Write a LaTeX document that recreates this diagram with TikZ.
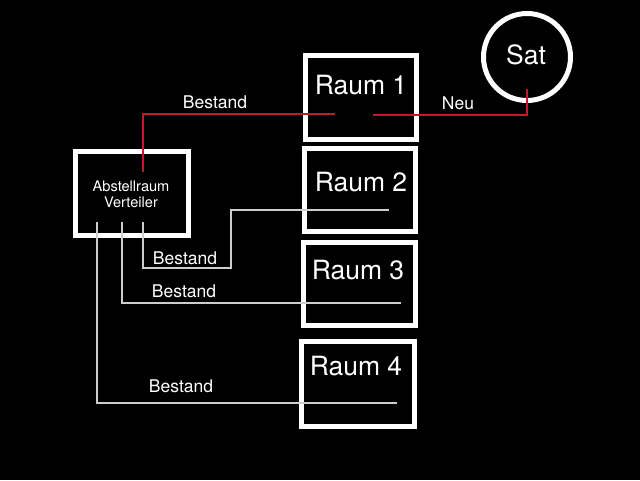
\documentclass[tikz,border=0pt]{standalone}
\usepackage{fontspec}
\setmainfont{TeX Gyre Heros}
\begin{document}
\begin{tikzpicture}[x=1pt,y=-1pt,
  room/.style={draw=white,line width=5pt,inner sep=0pt,minimum width=#1},
  lbl/.style={text=white,inner sep=0pt,font=\fontsize{17.5}{17.5}\selectfont},
  big/.style={text=white,inner sep=0pt,font=\fontsize{26.5}{26.5}\selectfont},
  redline/.style={draw={rgb,255:red,185;green,30;blue,38},line width=2.6pt},
  grayline/.style={draw={rgb,255:red,205;green,205;blue,205},line width=1.8pt}]
\fill[black] (0,0) rectangle (640,480);
\useasboundingbox (0,0) rectangle (640,480);
% boxes
\node[room=111pt,minimum height=84pt] (r1) at (360.5,97) {};
\node[room=111pt,minimum height=83pt] (r2) at (360,190) {};
\node[room=112pt,minimum height=83pt] (r3) at (359.5,284) {};
\node[room=113pt,minimum height=85pt] (r4) at (358,384) {};
\node[room=113pt,minimum height=84pt] (ab) at (132,193.5) {};
\node[draw=white,line width=5pt,circle,minimum size=87pt,inner sep=0pt] (sat) at (527,57) {};
% texts
\node[big] (t1) at (361,85) {Raum 1};
\node[big] (t2) at (361,182) {Raum 2};
\node[big] (t3) at (358,270) {Raum 3};
\node[big] (t4) at (356,366) {Raum 4};
\node[big] (ts) at (526,55) {Sat};
\node[text=white,inner sep=0pt,align=center,font=\fontsize{14.6}{16}\selectfont] (tab) at (131,194) {Abstellraum\\Verteiler};
\node[lbl] (b0) at (215,102) {Bestand};
\node[lbl] (neu) at (458,103) {Neu};
\node[lbl] (b1) at (185,258) {Bestand};
\node[lbl] (b2) at (184,291) {Bestand};
\node[lbl] (b3) at (181,386) {Bestand};
% red connection points
\coordinate (abr) at (143,172);
\coordinate (r1a) at (335,114);
\coordinate (r1b) at (373,115);
\coordinate (sata) at (527,89);
\draw[redline] (abr) |- (r1a);
\draw[redline] (r1b) -| (sata);
% gray lines
\coordinate (g1) at (143,222);
\coordinate (g2) at (122,222);
\coordinate (g3) at (97,222);
\coordinate (k1) at (231,268);
\coordinate (e2) at (389,210);
\coordinate (e3) at (401,303);
\coordinate (e4) at (397,403);
\draw[grayline] (g1) |- (k1) |- (e2);
\draw[grayline] (g2) |- (e3);
\draw[grayline] (g3) |- (e4);
\end{tikzpicture}
\end{document}
